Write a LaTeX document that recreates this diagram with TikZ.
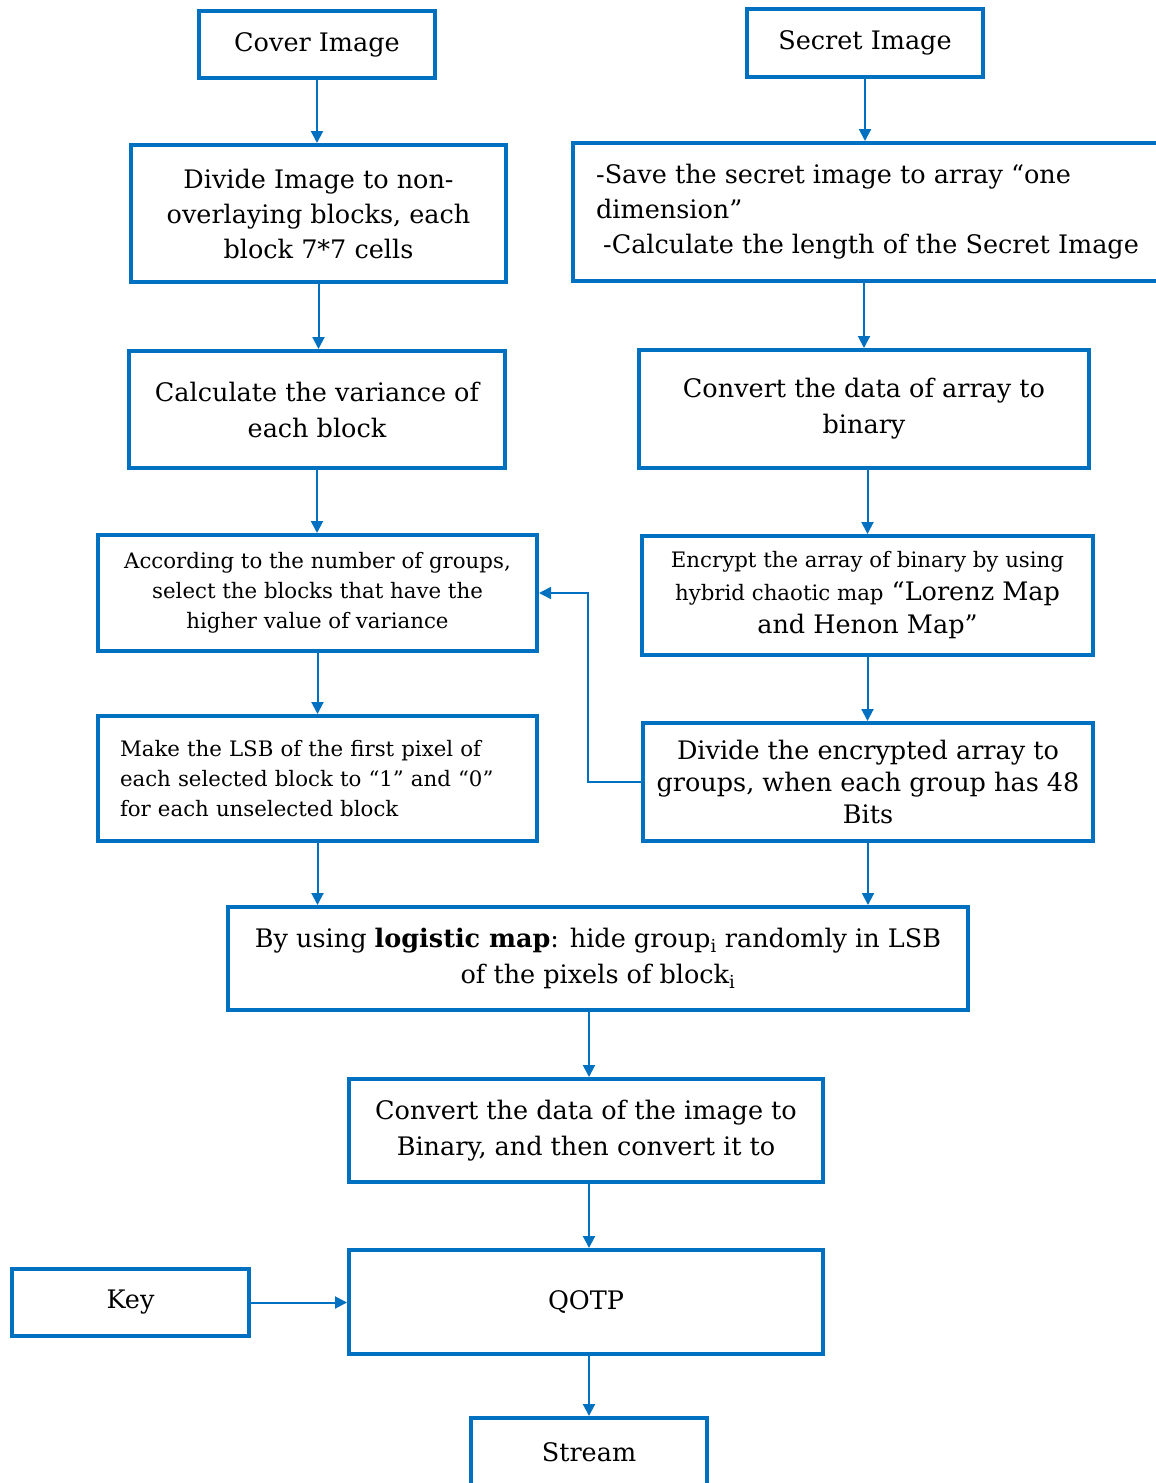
\documentclass[tikz,border=0pt]{standalone}
\usepackage{fontspec}
\setmainfont{DejaVu Serif}
\usetikzlibrary{arrows.meta,calc}
\definecolor{wblue}{HTML}{0070C0}
\begin{document}
\begin{tikzpicture}[x=1pt,y=-1pt,
 box/.style={draw=wblue,line width=4pt,rectangle,inner sep=0pt,align=center,text=black,font=\fontsize{25.5}{35}\selectfont},
 small/.style={font=\fontsize{21.3}{30}\selectfont},
 arr/.style={draw=wblue,line width=2pt,-{Triangle[length=12pt,width=12pt]}},
 fb/.style={draw=wblue,line width=1.6pt,-{Triangle[length=12pt,width=12pt]}}]
\useasboundingbox[fill=white] (0,0) rectangle (1156,1483);
\begin{scope}
\clip (0,0) rectangle (1156,1483);
\node[box,minimum width=236pt,minimum height=67pt] (cover) at (317,44.5) {Cover Image};
\node[box,minimum width=236pt,minimum height=68pt] (secret) at (865,43) {Secret Image};
\node[box,minimum width=375pt,minimum height=137pt] (divide) at (318.5,213.5) {Divide Image to non-\\overlaying blocks, each\\block 7*7 cells};
\node[box,minimum width=589pt,minimum height=138pt,align=left] (save) at (867.5,212) {-Save the secret image to array “one\\dimension”\\\hspace*{7pt}-Calculate the length of the Secret Image};
\node[box,minimum width=376pt,minimum height=117pt,font=\fontsize{25.5}{36}\selectfont] (calc) at (317,409.5) {Calculate the variance of\\each block};
\node[box,minimum width=450pt,minimum height=118pt,font=\fontsize{25.5}{36}\selectfont] (conv) at (864,409) {Convert the data of array to\\binary};
\node[box,small,minimum width=439pt,minimum height=116pt] (acc) at (317.5,593) {According to the number of groups,\\select the blocks that have the\\higher value of variance};
\node[box,minimum width=451pt,minimum height=119pt,font=\fontsize{25.5}{33}\selectfont] (enc) at (867.5,595.5) {{\fontsize{21.3}{33}\selectfont Encrypt the array of binary by using}\\{\fontsize{21.3}{33}\selectfont hybrid chaotic map} “Lorenz Map\\and Henon Map”};
\node[box,small,minimum width=439pt,minimum height=125pt,text width=395pt,align=left] (make) at (317.5,778.5) {Make the LSB of the first pixel of\\each selected block to “1” and “0”\\for each unselected block};
\node[box,minimum width=450pt,minimum height=118pt,font=\fontsize{25.5}{32}\selectfont] (divenc) at (868,782) {Divide the encrypted array to\\groups, when each group has 48\\Bits};
\node[box,minimum width=740pt,minimum height=103pt,font=\fontsize{25.5}{36}\selectfont] (hide) at (598,958.5) {By using \textbf{logistic map}: hide group\textsubscript{i} randomly in LSB\\of the pixels of block\textsubscript{i}};
\node[box,minimum width=474pt,minimum height=103pt,font=\fontsize{25.5}{36}\selectfont] (convimg) at (586,1130.5) {Convert the data of the image to\\Binary, and then convert it to};
\node[box,minimum width=237pt,minimum height=67pt] (key) at (130.5,1302.5) {Key};
\node[box,minimum width=474pt,minimum height=104pt] (qotp) at (586,1302) {QOTP};
\node[box,minimum width=236pt,minimum height=68pt] (stream) at (589,1452) {Stream};
\coordinate (mid) at (589,0);
\draw[arr] (cover.south) -- (cover.south |- divide.north);
\draw[arr] (divide.south) -- (divide.south |- calc.north);
\draw[arr] (calc.south) -- (calc.south |- acc.north);
\draw[arr] (acc.south) -- (acc.south |- make.north);
\draw[arr] (make.south) -- (make.south |- hide.north);
\draw[arr] (secret.south) -- (secret.south |- save.north);
\draw[arr] (conv.north |- save.south) -- (conv.north);
\draw[arr] (conv.south -| enc.south) -- (enc.north);
\draw[arr] (enc.south) -- (enc.south |- divenc.north);
\draw[arr] (divenc.south) -- (divenc.south |- hide.north);
\draw[arr] (hide.south -| mid) -- (convimg.north -| mid);
\draw[arr] (convimg.south -| mid) -- (qotp.north -| mid);
\draw[arr] (qotp.south -| mid) -- (stream.north);
\draw[arr] (key.east) -- (key.east -| qotp.west);
\draw[fb] (divenc.west) -- ++(-53,0) |- (acc.east);
\end{scope}
\end{tikzpicture}
\end{document}
